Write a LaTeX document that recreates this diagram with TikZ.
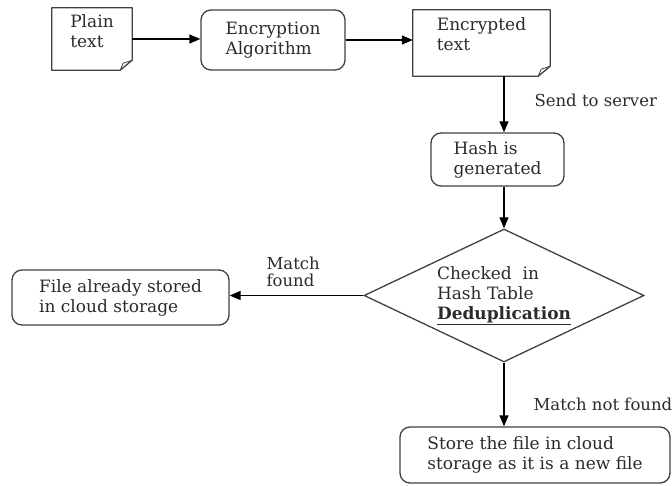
\documentclass[tikz,border=0pt]{standalone}
\usepackage{fontspec}
\setmainfont{DejaVu Serif}
\usepackage{tikz}
\usetikzlibrary{arrows.meta}
\usetikzlibrary{shapes.geometric}
\usetikzlibrary{calc}
\definecolor{boxline}{HTML}{404040}
\definecolor{txt}{HTML}{2B2B2B}
\tikzset{
	box/.style={draw=boxline, line width=1.3pt, rounded corners=10pt, align=left, text=txt,
		font=\fontsize{17}{20}\selectfont},
	paper/.style={align=left, text=txt, font=\fontsize{17}{20}\selectfont},
	paperline/.style={draw=boxline, line width=1.3pt, line join=round},
	decision/.style={diamond, draw=boxline, line width=1.3pt, aspect=2.1, inner sep=0pt,
		align=left, text=txt, font=\fontsize{17}{20}\selectfont},
	flow/.style={draw=black, line width=1.3pt, -{Triangle[length=11pt,width=9pt]}},
	lbl/.style={anchor=west, align=left, text=txt, font=\fontsize{16.5}{17}\selectfont},
}
\begin{document}
\begin{tikzpicture}[x=1pt, y=-1pt]
	\useasboundingbox (0,0) rectangle (672,486);
	\node[paper, minimum width=80pt, minimum height=62pt, text depth=16pt] (plain) at (92,39) {Plain\\text};
	\node[box, minimum width=144pt, minimum height=60pt] (encalg) at (273,40) {Encryption\\Algorithm};
	\node[paper, minimum width=137pt, minimum height=66pt, text depth=17pt] (enc) at (481.5,43) {Encrypted\\text};
	\node[box, minimum width=133pt, minimum height=53pt] (hash) at (497.5,159.5) {Hash is\\generated};
	\node[decision, minimum width=280pt, minimum height=133pt] (dec) at (504,295.5)
		{Checked\ \ in\\Hash Table\\\textbf{\underline{Deduplication}}};
	\node[box, minimum width=217pt, minimum height=55pt] (file) at (120.5,297.5) {File already stored\\in cloud storage};
	\node[box, minimum width=270pt, minimum height=56pt] (store) at (535,455) {Store the file in cloud\\storage as it is a new file};
	% folded paper outlines
	\foreach \n in {plain,enc} {
		\draw[paperline] (\n.north west) -- (\n.north east) -- ($(\n.south east)+(0,-10)$)
			-- ($(\n.south east)+(-12,0)$) -- (\n.south west) -- cycle;
		\draw[paperline, line width=0.8pt] ($(\n.south east)+(0,-10)$) -- ($(\n.south east)+(-9,-7)$)
			-- ($(\n.south east)+(-12,0)$);
	}
	\node[lbl] (lsend) at (531,100) {Send to server};
	\node[lbl] (lfound) at (263,272) {Match\\found};
	\node[lbl] (lnot) at (530,404) {Match not found};
	\draw[flow] (plain.east) -- (plain.east -| encalg.west);
	\draw[flow] (encalg.east) -- (encalg.east -| enc.west);
	\draw[flow] (enc.south -| dec.north) -- (hash.north -| dec.north);
	\draw[flow] (hash.south -| dec.north) -- (dec.north);
	\draw[flow] (dec.west) -- (dec.west -| file.east);
	\draw[flow] (dec.south) -- (store.north -| dec.south);
\end{tikzpicture}
\end{document}
